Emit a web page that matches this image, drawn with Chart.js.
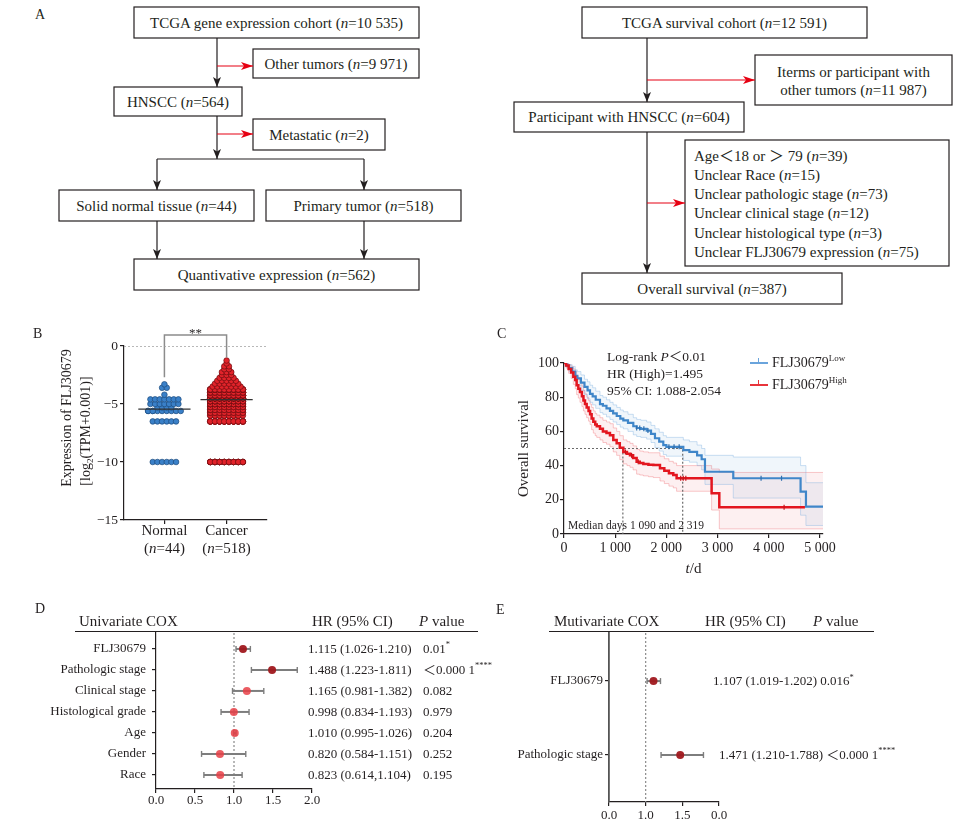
<!DOCTYPE html>
<html>
<head>
<meta charset="utf-8">
<title>FLJ30679 in HNSCC</title>
<script src="https://cdn.jsdelivr.net/npm/chart.js@4.4.1/dist/chart.umd.min.js"></script>
<style>
body { margin: 0; background: #fff; }
#fig { position: relative; width: 966px; height: 833px; overflow: hidden; background: #fff;
       font-family: 'Liberation Serif', 'Times New Roman', 'Noto Sans CJK SC', serif; color: #231f20; }
#fig canvas, #fig svg, .t, .hl, .sw { position: absolute; }
.t { white-space: nowrap; line-height: 16px; font-size: 15px; }
.t sup { font-size: 9px; line-height: 0; vertical-align: 6px; }
.hl { height: 0; border-top: 1.3px solid #231f20; }
.sw { height: 0; border-top: 2px solid; }
.lbl { font-size: 14px; }
.ann { font-size: 13.5px; }
</style>
</head>
<body>
<div id="fig">

<!-- A: sample selection flowcharts -->
<svg width="966" height="310" style="left:0;top:0" font-family="'Liberation Serif', 'Times New Roman', 'Noto Sans CJK SC', serif" font-size="15">
  <defs>
    <marker id="hk" viewBox="0 0 10 8" markerWidth="10" markerHeight="8" refX="10" refY="4" orient="auto" markerUnits="userSpaceOnUse">
      <path d="M0,0 L10,4 L0,8 L2.5,4 z" fill="#231f20"/>
    </marker>
    <marker id="hr" viewBox="0 0 12 8" markerWidth="12" markerHeight="8" refX="12" refY="4" orient="auto" markerUnits="userSpaceOnUse">
      <path d="M0,0 L12,4 L0,8 L3,4 z" fill="#e60012"/>
    </marker>
  </defs>
  <g fill="#fff" stroke="#231f20" stroke-width="1.2">
    <rect x="134" y="7" width="285" height="31"/>
    <rect x="253" y="49" width="166" height="29"/>
    <rect x="114" y="87" width="128" height="29"/>
    <rect x="253" y="119" width="132" height="31"/>
    <rect x="59" y="190" width="195" height="31"/>
    <rect x="266" y="190" width="195" height="31"/>
    <rect x="134" y="259" width="285" height="31"/>
    <rect x="582" y="7" width="285" height="31"/>
    <rect x="755" y="55" width="197" height="50"/>
    <rect x="514" y="102" width="230" height="30"/>
    <rect x="685" y="140" width="264" height="126"/>
    <rect x="582" y="273" width="260" height="31"/>
  </g>
  <g stroke="#231f20" stroke-width="1.2" fill="none">
    <path d="M217,38 V87" marker-end="url(#hk)"/>
    <path d="M217,116 V159" marker-end="url(#hk)"/>
    <path d="M157,159 H364"/>
    <path d="M157,159 V190" marker-end="url(#hk)"/>
    <path d="M364,159 V190" marker-end="url(#hk)"/>
    <path d="M157,221 V259" marker-end="url(#hk)"/>
    <path d="M364,221 V259" marker-end="url(#hk)"/>
    <path d="M647,38 V102" marker-end="url(#hk)"/>
    <path d="M647,132 V273" marker-end="url(#hk)"/>
  </g>
  <g stroke="#e60012" stroke-width="1.2" fill="none">
    <path d="M217,66 H253" marker-end="url(#hr)"/>
    <path d="M217,134 H253" marker-end="url(#hr)"/>
    <path d="M647,80 H755" marker-end="url(#hr)"/>
    <path d="M647,203 H685" marker-end="url(#hr)"/>
  </g>
  <g fill="#231f20" text-anchor="middle" dominant-baseline="central">
    <text x="276.5" y="23">TCGA gene expression cohort (<tspan font-style="italic">n</tspan>=10 535)</text>
    <text x="336" y="63.5">Other tumors (<tspan font-style="italic">n</tspan>=9 971)</text>
    <text x="178" y="101.5">HNSCC (<tspan font-style="italic">n</tspan>=564)</text>
    <text x="319" y="134.5">Metastatic (<tspan font-style="italic">n</tspan>=2)</text>
    <text x="156.5" y="205.5">Solid normal tissue (<tspan font-style="italic">n</tspan>=44)</text>
    <text x="363.5" y="205.5">Primary tumor (<tspan font-style="italic">n</tspan>=518)</text>
    <text x="276.5" y="274.5">Quantivative expression (<tspan font-style="italic">n</tspan>=562)</text>
    <text x="724.5" y="22.5">TCGA survival cohort (<tspan font-style="italic">n</tspan>=12 591)</text>
    <text x="853.5" y="71.5">Iterms or participant with</text>
    <text x="853.5" y="90">other tumors (<tspan font-style="italic">n</tspan>=11 987)</text>
    <text x="629" y="117">Participant with HNSCC (<tspan font-style="italic">n</tspan>=604)</text>
    <text x="712" y="288.5">Overall survival (<tspan font-style="italic">n</tspan>=387)</text>
  </g>
  <g fill="#231f20" dominant-baseline="central">
    <text x="694" y="156">Age＜18 or ＞ 79 (<tspan font-style="italic">n</tspan>=39)</text>
    <text x="694" y="175">Unclear Race (<tspan font-style="italic">n</tspan>=15)</text>
    <text x="694" y="194">Unclear pathologic stage (<tspan font-style="italic">n</tspan>=73)</text>
    <text x="694" y="213">Unclear clinical stage (<tspan font-style="italic">n</tspan>=12)</text>
    <text x="694" y="233">Unclear histological type (<tspan font-style="italic">n</tspan>=3)</text>
    <text x="694" y="252">Unclear FLJ30679 expression (<tspan font-style="italic">n</tspan>=75)</text>
  </g>
</svg>

<canvas id="cB" width="240" height="250" style="left:40px;top:320px"></canvas>
<canvas id="cC" width="345" height="260" style="left:495px;top:330px"></canvas>
<canvas id="cD" width="460" height="197" style="left:40px;top:613px"></canvas>
<canvas id="cE" width="430" height="212" style="left:495px;top:613px"></canvas>

<!-- panel letters -->
<div class="t lbl" style="left:35px;top:7px">A</div>
<div class="t lbl" style="left:33px;top:326px">B</div>
<div class="t lbl" style="left:497px;top:326px">C</div>
<div class="t lbl" style="left:35px;top:601px">D</div>
<div class="t lbl" style="left:496px;top:602px">E</div>

<!-- C annotations and legend -->
<div class="t ann" style="left:607px;top:349px">Log-rank <i>P</i>＜0.01</div>
<div class="t ann" style="left:607px;top:366px">HR (High)=1.495</div>
<div class="t ann" style="left:607px;top:383px">95% CI: 1.088-2.054</div>
<div class="t" style="left:568px;top:517px;font-size:11.5px">Median days 1 090 and 2 319</div>
<div class="sw" style="left:750px;top:362px;width:18px;border-color:#6aa4dc"></div>
<div class="sw" style="left:758px;top:358px;width:0;height:4px;border-top:0;border-left:1.5px solid #6aa4dc"></div>
<div class="t" style="left:772px;top:355px;font-size:14px">FLJ30679<sup>Low</sup></div>
<div class="sw" style="left:750px;top:384px;width:18px;border-color:#e8343b"></div>
<div class="sw" style="left:758px;top:380px;width:0;height:4px;border-top:0;border-left:1.5px solid #e8343b"></div>
<div class="t" style="left:772px;top:377px;font-size:14px">FLJ30679<sup>High</sup></div>

<!-- D / E table headers -->
<div class="t" style="left:79px;top:613px">Univariate COX</div>
<div class="t" style="left:312px;top:613px">HR (95% CI)</div>
<div class="t" style="left:419px;top:613px"><i>P</i> value</div>
<div class="hl" style="left:75px;top:631px;width:403px"></div>
<div class="t" style="left:554px;top:613px">Mutivariate COX</div>
<div class="t" style="left:705px;top:613px">HR (95% CI)</div>
<div class="t" style="left:813px;top:613px"><i>P</i> value</div>
<div class="hl" style="left:549px;top:631px;width:325px"></div>
</div>

<script>
// ---- B: expression levels (log2(TPM+0.001)) and number of samples at each level
const groupNames = ['Normal', 'Cancer'];
const groupN = [44, 518];
const normalLevels = [-10, -6.5, -5.6, -5.3, -5.0, -4.6, -4.2, -3.6, -3.3];
const normalCounts = [6, 6, 10, 4, 7, 7, 1, 2, 1];
const cancerLevels = [-10, -6.5, -6.0, -5.75, -5.5, -5.25, -5.0, -4.75, -4.5, -4.25, -4.0, -3.75,
                      -3.5, -3.25, -3.0, -2.75, -2.5, -2.25, -2.0, -1.75, -1.5, -1.25];
const cancerCounts = [35, 40, 15, 20, 25, 34, 45, 45, 65, 60, 55, 45, 7, 6, 5, 4, 3, 3, 2, 2, 1, 1];
const exprTicks = [0, -5, -10, -15];

// ---- C: Kaplan-Meier, days / survival % with 95% band
const lowT  = [0, 50, 100, 160, 220, 260, 330, 400, 460, 508, 560, 620, 703, 760, 830, 898, 960, 1030, 1100, 1159,
               1250, 1354, 1420, 1500, 1615, 1700, 1777, 1860, 1940, 2000, 2331, 2450, 2600, 2689, 2754, 3307, 4622, 4727, 5060];
const lowS  = [100, 98.5, 97, 95, 92.5, 91, 88.5, 86, 84, 82, 80.5, 78.5, 76, 75, 73.5, 72, 70.5, 69, 67.5, 66.5,
               65, 63, 62, 61.5, 60.5, 58.5, 56, 54, 52, 51, 49, 48, 46, 43.7, 36.4, 32.6, 24.8, 16, 16];
const lowUp = [100, 99.5, 99, 98, 96, 95, 93, 90.5, 89, 87, 85.5, 83.5, 81, 80, 78.5, 77, 75.5, 74, 72.5, 71.5,
               70, 68, 67, 66.5, 65.5, 63.5, 61.5, 59.5, 57.5, 56.5, 55, 54, 52, 50, 46, 45, 40, 30, 30];
const lowLo = [100, 97.5, 95, 92, 89, 87, 84, 81.5, 79, 77, 75.5, 73.5, 71, 70, 68.5, 67, 65.5, 64, 62.5, 61.5,
               60, 58, 57, 56.5, 55.5, 53.5, 50.5, 48.5, 46.5, 45.5, 43, 42, 40, 37.5, 29, 21, 11, 5, 5];
const highT  = [0, 40, 90, 140, 182, 220, 247, 280, 312, 350, 380, 410, 443, 480, 510, 540, 573, 610, 640, 703,
                760, 830, 898, 963, 1029, 1090, 1159, 1230, 1289, 1350, 1419, 1480, 1550, 1650, 1745, 1875, 1960, 2050, 2135, 2200,
                2884, 3034, 4707];
const highS  = [100, 98.5, 96.5, 94.5, 92, 90, 87, 85, 83, 80.5, 78, 76, 74, 72, 70, 67.5, 65.6, 64, 63, 61.5,
                60, 59, 57.8, 55, 53, 50.5, 48, 47, 46, 44.5, 42.3, 41.5, 41, 40.5, 40.3, 38.4, 37, 35.5, 34.5, 32.6,
                23.8, 15.6, 15.6];
const highUp = [100, 100, 99, 98, 96.5, 95, 92.5, 90.5, 89, 86.5, 84, 82, 80, 78, 76, 74, 72, 70.5, 69.5, 68,
                66.5, 65.5, 64.5, 62, 60, 57.5, 55, 54, 53, 51.5, 49.5, 48.5, 48, 47.5, 47.5, 45.5, 44, 42.5, 41.5, 40,
                38, 36, 36];
const highLo = [100, 97, 94, 91, 87.5, 85, 81.5, 79.5, 77, 74.5, 72, 70, 68, 66, 64, 61, 59, 57.5, 56.5, 55,
                53.5, 52.5, 51, 48, 46, 43.5, 41, 40, 39, 37.5, 35, 34.5, 34, 33.5, 33, 31, 29.5, 28, 27, 25,
                14, 3, 3];
const highBandT = highT.slice(0, -1).concat([5060]);   // the red band runs on to the end of the axis
const lowCensor = [1420, 1480, 1560, 1640, 2050, 2150, 2250, 3850, 4250];
const highCensor = [1200, 1320, 1450, 2280, 2330, 2380, 4300];
const medianDays = [1150, 2319];
const dayTicks = [0, 1000, 2000, 3000, 4000, 5000];

// ---- D: univariate Cox
const uniLabels = ['FLJ30679', 'Pathologic stage', 'Clinical stage', 'Histological grade', 'Age', 'Gender', 'Race'];
const uniHR = [1.115, 1.488, 1.165, 0.998, 1.010, 0.820, 0.823];
const uniLo = [1.026, 1.223, 0.981, 0.834, 0.995, 0.584, 0.614];
const uniHi = [1.210, 1.811, 1.382, 1.193, 1.026, 1.151, 1.104];
const uniSep = ['-', '-', '-', '-', '-', '-', ','];
const uniP = ['0.01', '＜0.000 1', '0.082', '0.979', '0.204', '0.252', '0.195'];
const uniStars = ['*', '****', '', '', '', '', ''];
const uniTicks = [0, 0.5, 1, 1.5, 2];

// ---- E: multivariate Cox
const multiLabels = ['FLJ30679', 'Pathologic stage'];
const multiHR = [1.107, 1.471];
const multiLo = [1.019, 1.210];
const multiHi = [1.202, 1.788];
const multiP = ['0.016', '＜0.000 1'];
const multiStars = ['*', '****'];
const multiTicks = [0.5, 1, 1.5, 2];
const multiTickLabels = ['0.0', '1.0', '1.5', '0.0'];

const FONT = "'Liberation Serif', 'Times New Roman', 'Noto Sans CJK SC', serif";
const INK = '#231f20';
Chart.defaults.font.family = FONT;
Chart.defaults.color = INK;
Chart.defaults.animation = false;
Chart.defaults.events = [];
Chart.defaults.plugins.legend.display = false;
Chart.defaults.plugins.tooltip.enabled = false;

// text with italic / super / subscript pieces
function rich(ctx, parts, x, y, size, align) {
  const fontFor = st => (st === 'i' ? 'italic ' : '') + (st === 'sup' || st === 'sub' ? size * 0.65 : size) + 'px ' + FONT;
  let w = 0;
  parts.forEach(([t, st]) => { ctx.font = fontFor(st); w += ctx.measureText(t).width; });
  let cx = align === 'center' ? x - w / 2 : align === 'right' ? x - w : x;
  ctx.textAlign = 'left';
  ctx.textBaseline = 'alphabetic';
  const base = y + size * 0.33;
  parts.forEach(([t, st]) => {
    ctx.font = fontFor(st);
    const dy = st === 'sup' ? -size * 0.45 : st === 'sub' ? size * 0.25 : 0;
    ctx.fillText(t, cx, base + dy);
    cx += ctx.measureText(t).width;
  });
}

const axisGrid = len => ({ drawOnChartArea: false, tickLength: len, color: INK, lineWidth: 1.2 });
const axisBorder = { color: INK, width: 1.2 };

// ---- B
const SLOT = 0.075, MAX_SLOTS = 8;
function swarm(levels, counts, center) {
  const pts = [];
  levels.forEach((y, k) => {
    const slots = Math.min(counts[k], MAX_SLOTS);
    for (let i = 0; i < counts[k]; i++) {
      const s = i % slots;
      pts.push({ x: center + (s - (slots - 1) / 2) * SLOT, y: y });
    }
  });
  return pts;
}
function median(levels, counts) {
  const all = [];
  levels.forEach((v, k) => { for (let i = 0; i < counts[k]; i++) all.push(v); });
  all.sort((a, b) => a - b);
  const m = all.length / 2;
  return all.length % 2 ? all[Math.floor(m)] : (all[m - 1] + all[m]) / 2;
}
const B_XMIN = -0.65, B_XMAX = 1.65, BRACKET_TOP = 0.95;
const medians = [median(normalLevels, normalCounts), median(cancerLevels, cancerCounts)];
const tops = [Math.max(...normalLevels), Math.max(...cancerLevels)];

const bText = {
  id: 'bText',
  afterDraw(chart) {
    const { ctx, chartArea: a, scales: { x } } = chart;
    ctx.save();
    ctx.fillStyle = INK;
    groupNames.forEach((g, i) => {
      const px = x.getPixelForValue(i);
      rich(ctx, [[g, '']], px, a.bottom + 10, 15, 'center');
      rich(ctx, [['(', ''], ['n', 'i'], ['=' + groupN[i] + ')', '']], px, a.bottom + 28, 15, 'center');
    });
    rich(ctx, [['**', '']], x.getPixelForValue(0.5), a.top - 13, 13, 'center');
    const cy = (a.top + a.bottom) / 2;
    ctx.translate(a.left - 58, cy - 15);
    ctx.rotate(-Math.PI / 2);
    rich(ctx, [['Expression of FLJ30679', '']], 0, 0, 14, 'center');
    ctx.restore();
    ctx.save();
    ctx.fillStyle = INK;
    ctx.translate(a.left - 39, cy - 2);
    ctx.rotate(-Math.PI / 2);
    rich(ctx, [['[log', ''], ['2', 'sub'], ['(TPM+0.001)]', '']], 0, 0, 14, 'center');
    ctx.restore();
  }
};

new Chart(document.getElementById('cB'), {
  type: 'scatter',
  data: {
    datasets: [
      ...medians.map((m, i) => ({ type: 'line', data: [{ x: i - 0.42, y: m }, { x: i + 0.42, y: m }],
        borderColor: '#333', borderWidth: 1.2, pointRadius: 0 })),
      { data: swarm(normalLevels, normalCounts, 0), pointRadius: 2.8,
        backgroundColor: '#3a80c8', borderColor: '#1c4b7c', borderWidth: 0.7 },
      { data: swarm(cancerLevels, cancerCounts, 1), pointRadius: 2.8,
        backgroundColor: '#e2232a', borderColor: '#6b0d10', borderWidth: 0.7 },
      { type: 'line', data: [{ x: B_XMIN, y: 0 }, { x: B_XMAX, y: 0 }], borderColor: '#9a9a9a',
        borderWidth: 1.4, borderDash: [2, 2], pointRadius: 0 },
      { type: 'line', clip: false, borderColor: '#8c8c8c', borderWidth: 1.5, pointRadius: 0,
        data: [{ x: 0, y: tops[0] + 0.6 }, { x: 0, y: BRACKET_TOP }, { x: 1, y: BRACKET_TOP }, { x: 1, y: tops[1] + 0.3 }] }
    ]
  },
  options: {
    responsive: false,
    layout: { padding: { top: 26, right: 13, left: 0, bottom: 0 } },
    scales: {
      x: { type: 'linear', min: B_XMIN, max: B_XMAX,
           afterBuildTicks: s => { s.ticks = [{ value: 0 }, { value: 1 }]; },
           afterFit: s => { s.height = 50; },
           ticks: { display: false }, grid: axisGrid(4), border: axisBorder },
      y: { min: -15, max: 0,
           afterBuildTicks: s => { s.ticks = exprTicks.map(v => ({ value: v })); },
           afterFit: s => { s.width = 84; },
           ticks: { callback: v => (v < 0 ? '\u2212' + (-v) : '' + v), font: { size: 13.5 }, padding: 2 },
           grid: axisGrid(4), border: axisBorder }
    }
  },
  plugins: [bText]
});

// ---- C
const pts = (ts, vs) => ts.map((t, i) => ({ x: t, y: vs[i] }));
const survAt = (ts, ss, t) => { let v = ss[0]; ts.forEach((tt, i) => { if (tt <= t) v = ss[i]; }); return v; };
const curve = (data, color, width, extra) => Object.assign({ data, borderColor: color, borderWidth: width,
  pointRadius: 0, stepped: true, fill: false }, extra || {});
const censor = (ts, ss, times, color) => ({ type: 'scatter', data: times.map(t => ({ x: t, y: survAt(ts, ss, t) })),
  pointStyle: 'line', rotation: 90, pointRadius: 2.5, borderColor: color, borderWidth: 1.2 });

const cText = {
  id: 'cText',
  afterDraw(chart) {
    const { ctx, chartArea: a } = chart;
    ctx.save();
    ctx.fillStyle = INK;
    rich(ctx, [['t', 'i'], ['/d', '']], (a.left + a.right) / 2, a.bottom + 34, 15, 'center');
    ctx.translate(a.left - 41, (a.top + a.bottom) / 2);
    ctx.rotate(-Math.PI / 2);
    rich(ctx, [['Overall survival', '']], 0, 0, 15, 'center');
    ctx.restore();
  }
};

new Chart(document.getElementById('cC'), {
  type: 'line',
  data: {
    datasets: [
      censor(highT, highS, highCensor, '#c8141b'),
      censor(lowT, lowS, lowCensor, '#2f6fae'),
      curve(pts(highT, highS), '#e3161f', 2.5),
      curve(pts(lowT, lowS), '#3f86c9', 2.2),
      curve([{ x: 0, y: 50 }, { x: medianDays[1], y: 50 }, { x: medianDays[1], y: 0 }], '#6b6b6b', 1.2,
            { stepped: false, borderDash: [2, 2] }),
      curve([{ x: medianDays[0], y: 50 }, { x: medianDays[0], y: 0 }], '#6b6b6b', 1.2,
            { stepped: false, borderDash: [2, 2] }),
      curve(pts(lowT, lowUp), 'rgba(110,165,220,0.35)', 1, { fill: '+1', backgroundColor: 'rgba(90,150,215,0.09)' }),
      curve(pts(lowT, lowLo), 'rgba(110,165,220,0.35)', 1),
      curve(pts(highBandT, highUp), 'rgba(240,120,125,0.4)', 1, { fill: '+1', backgroundColor: 'rgba(235,70,80,0.08)' }),
      curve(pts(highBandT, highLo), 'rgba(240,120,125,0.4)', 1)
    ]
  },
  options: {
    responsive: false,
    layout: { padding: { top: 33, right: 17, left: 0, bottom: 0 } },
    scales: {
      x: { type: 'linear', min: 0, max: 5060,
           afterBuildTicks: s => { s.ticks = dayTicks.map(v => ({ value: v })); },
           afterFit: s => { s.height = 56; },
           ticks: { callback: v => (v === 0 ? '0' : (v / 1000) + ' 000'), font: { size: 14 }, padding: 2, maxRotation: 0 },
           grid: axisGrid(4), border: axisBorder },
      y: { type: 'linear', min: 0, max: 100,
           afterFit: s => { s.width = 69; },
           ticks: { stepSize: 20, font: { size: 14 }, padding: 1 },
           grid: axisGrid(4), border: axisBorder }
    }
  },
  plugins: [cText]
});

// ---- D / E forest plots
const DARK = 'rgba(160,24,30,0.95)', LIGHT = 'rgba(232,64,70,0.85)', BAR = '#7d7d7d';
function forestSets(hr, lo, hi, stars, ymin, ymax) {
  return [
    { data: hr.map((v, i) => ({ x: v, y: i })), pointRadius: 4, borderWidth: 0,
      pointBackgroundColor: stars.map(s => (s ? DARK : LIGHT)) },
    { data: lo.map((v, i) => ({ x: v, y: i })).concat(hi.map((v, i) => ({ x: v, y: i }))),
      pointStyle: 'line', rotation: 90, pointRadius: 3, borderColor: BAR, borderWidth: 1.4 },
    ...lo.map((v, i) => ({ type: 'line', data: [{ x: v, y: i }, { x: hi[i], y: i }],
      borderColor: BAR, borderWidth: 2, pointRadius: 0 })),
    { type: 'line', data: [{ x: 1, y: ymin }, { x: 1, y: ymax }], borderColor: '#8a8a8a',
      borderWidth: 1.2, borderDash: [2, 2], pointRadius: 0 }
  ];
}
const fmt = v => v.toFixed(3);

const D_YMIN = -0.76, D_YMAX = 6.67;
const dText = {
  id: 'dText',
  afterDraw(chart) {
    const { ctx, chartArea: a, scales: { y } } = chart;
    ctx.save();
    ctx.fillStyle = INK;
    uniHR.forEach((v, i) => {
      const py = y.getPixelForValue(i);
      rich(ctx, [[fmt(v) + ' (' + fmt(uniLo[i]) + uniSep[i] + fmt(uniHi[i]) + ')', '']], a.right - 4, py, 13, 'left');
      rich(ctx, [[uniP[i], ''], [uniStars[i], 'sup']], a.right + 111, py, 13, 'left');
    });
    ctx.restore();
  }
};
new Chart(document.getElementById('cD'), {
  type: 'scatter',
  data: { datasets: forestSets(uniHR, uniLo, uniHi, uniStars, D_YMIN, D_YMAX) },
  options: {
    responsive: false,
    layout: { padding: { top: 20, right: 188, left: 0, bottom: 0 } },
    scales: {
      x: { type: 'linear', min: 0, max: 2,
           afterBuildTicks: s => { s.ticks = uniTicks.map(v => ({ value: v })); },
           afterFit: s => { s.height = 21; },
           ticks: { callback: v => v.toFixed(1), font: { size: 13 }, padding: 0, maxRotation: 0 },
           grid: axisGrid(4), border: axisBorder },
      y: { type: 'linear', min: D_YMIN, max: D_YMAX, reverse: true,
           afterBuildTicks: s => { s.ticks = uniLabels.map((_, i) => ({ value: i })); },
           afterFit: s => { s.width = 116; },
           ticks: { callback: v => uniLabels[v], font: { size: 13 }, padding: 6 },
           grid: axisGrid(4), border: axisBorder }
    }
  },
  plugins: [dText]
});

const E_YMIN = -0.65, E_YMAX = 1.635;
const eText = {
  id: 'eText',
  afterDraw(chart) {
    const { ctx, chartArea: a, scales: { y } } = chart;
    ctx.save();
    ctx.fillStyle = INK;
    multiHR.forEach((v, i) => {
      const line = fmt(v) + ' (' + fmt(multiLo[i]) + '-' + fmt(multiHi[i]) + ') ' + multiP[i];
      rich(ctx, [[line, ''], [multiStars[i], 'sup']], a.right - 6 + i * 6, y.getPixelForValue(i), 13, 'left');
    });
    ctx.restore();
  }
};
new Chart(document.getElementById('cE'), {
  type: 'scatter',
  data: { datasets: forestSets(multiHR, multiLo, multiHi, multiStars, E_YMIN, E_YMAX) },
  options: {
    responsive: false,
    layout: { padding: { top: 20, right: 206, left: 0, bottom: 0 } },
    scales: {
      x: { type: 'linear', min: 0.5, max: 2,
           afterBuildTicks: s => { s.ticks = multiTicks.map(v => ({ value: v })); },
           afterFit: s => { s.height = 23; },
           ticks: { callback: (v, i) => multiTickLabels[i], font: { size: 13 }, padding: 2, maxRotation: 0 },
           grid: axisGrid(4), border: axisBorder },
      y: { type: 'linear', min: E_YMIN, max: E_YMAX, reverse: true,
           afterBuildTicks: s => { s.ticks = multiLabels.map((_, i) => ({ value: i })); },
           afterFit: s => { s.width = 114; },
           ticks: { callback: v => multiLabels[v], font: { size: 13 }, padding: 2 },
           grid: axisGrid(4), border: { color: '#555', width: 1.8 } }
    }
  },
  plugins: [eText]
});
</script>
</body>
</html>
